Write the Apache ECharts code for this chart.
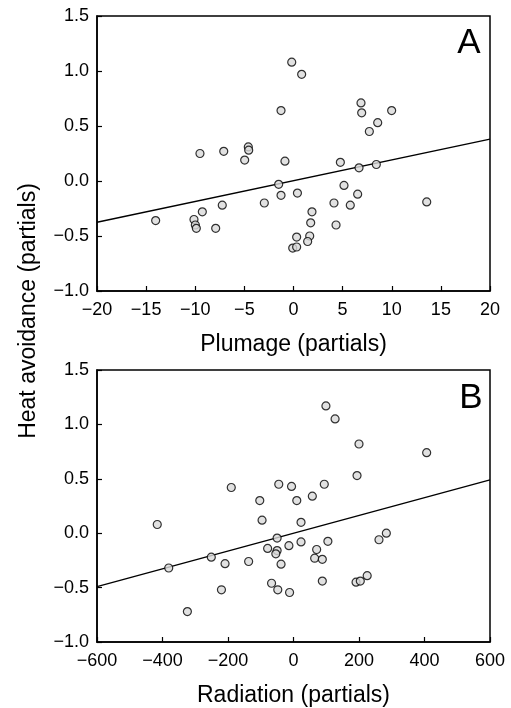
<!DOCTYPE html>
<html>
<head>
<meta charset="utf-8">
<script src="https://cdn.jsdelivr.net/npm/echarts@6/dist/echarts.min.js"></script>
<style>html,body{margin:0;padding:0;background:#fff;}#c{width:511px;height:708px;}</style>
</head>
<body>
<div id="c"></div>
<script>
// Panel A: Plumage (partials) vs Heat avoidance (partials)
const plumageX = [-0.18,0.83,-1.27,-9.52,-7.1,-4.6,-4.56,-4.97,-0.87,-1.51,-1.27,0.4,-2.97,-7.25,-9.28,-14.03,-10.13,-9.99,-9.89,-7.92,0.32,-0.08,0.32,6.87,6.94,9.99,8.57,7.72,4.77,6.67,8.43,5.14,6.53,4.12,5.78,13.56,1.88,1.75,4.33,1.65,1.44];
const heatA    = [1.08,0.97,0.64,0.25,0.27,0.31,0.28,0.19,0.18,-0.03,-0.13,-0.11,-0.20,-0.22,-0.28,-0.36,-0.35,-0.40,-0.43,-0.43,-0.51,-0.61,-0.60,0.71,0.62,0.64,0.53,0.45,0.17,0.12,0.15,-0.04,-0.12,-0.20,-0.22,-0.19,-0.28,-0.38,-0.40,-0.50,-0.55];
const fitAx = [-20, 20];
const fitAy = [-0.375, 0.38];

// Panel B: Radiation (partials) vs Heat avoidance (partials)
const radiationX = [-416,-381,-324,-251,-220,-209,-190,-137,-103,-96,-79,-67,-50,-50,-54,-45,-38,-48,-14,-12,-6,10,23,23,57.5,70.7,64.6,88,88,94,99,105,127,191,194,200,204,225,261,283.5,406.6];
const heatB      = [0.08,-0.32,-0.72,-0.22,-0.52,-0.28,0.42,-0.26,0.30,0.12,-0.14,-0.46,-0.045,-0.16,-0.19,0.45,-0.285,-0.52,-0.115,-0.545,0.43,0.30,0.10,-0.08,0.34,-0.15,-0.23,-0.24,-0.44,0.45,1.17,-0.075,1.05,-0.45,0.53,0.82,-0.44,-0.39,-0.06,0.00,0.74];
const fitBx = [-600, 600];
const fitBy = [-0.49, 0.49];

const xTicksA = [-20,-15,-10,-5,0,5,10,15,20];
const xTicksB = [-600,-400,-200,0,200,400,600];
const yTicks = [-1.0,-0.5,0.0,0.5,1.0,1.5];

const FONT = '"Liberation Sans", Arial, sans-serif';
const minus = s => String(s).replace('-', '\u2212');

function xAxisCfg(gridIndex, ticks, name) {
  return {
    type: 'value', gridIndex,
    min: ticks[0], max: ticks[ticks.length-1], interval: ticks[1]-ticks[0],
    name, nameLocation: 'middle', nameGap: 42,
    nameTextStyle: {fontFamily: FONT, fontSize: 23, color: '#000'},
    axisLine: {show: true, onZero: false, lineStyle: {color: '#000', width: 1.5}},
    axisTick: {show: true, inside: true, length: 5, lineStyle: {color: '#000', width: 1.2}},
    axisLabel: {fontFamily: FONT, fontSize: 18, color: '#000', margin: 10, formatter: v => minus(v)},
    splitLine: {show: false}
  };
}
function yAxisCfg(gridIndex) {
  return {
    type: 'value', gridIndex,
    min: yTicks[0], max: yTicks[yTicks.length-1], interval: yTicks[1]-yTicks[0],
    axisLine: {show: true, onZero: false, lineStyle: {color: '#000', width: 1.5}},
    axisTick: {show: true, inside: true, length: 5, lineStyle: {color: '#000', width: 1.2}},
    axisLabel: {fontFamily: FONT, fontSize: 18, color: '#000', margin: 8, formatter: v => minus(v.toFixed(1))},
    splitLine: {show: false}
  };
}

const ptStyle = {color: '#d9d9d9', borderColor: '#000', borderWidth: 1.2};

const chart = echarts.init(document.getElementById('c'), null, {renderer: 'canvas'});
chart.setOption({
  animation: false,
  backgroundColor: '#fff',
  grid: [
    {left: 97, width: 393, top: 16, height: 275, show: true, borderColor: '#000', borderWidth: 1.5, backgroundColor: 'transparent'},
    {left: 97, width: 393, top: 370, height: 275, show: true, borderColor: '#000', borderWidth: 1.5, backgroundColor: 'transparent'}
  ],
  xAxis: [xAxisCfg(0, xTicksA, 'Plumage (partials)'), xAxisCfg(1, xTicksB, 'Radiation (partials)')],
  yAxis: [yAxisCfg(0), yAxisCfg(1)],
  series: [
    {type: 'line', xAxisIndex: 0, yAxisIndex: 0, data: fitAx.map((x,i)=>[x, fitAy[i]]), showSymbol: false, lineStyle: {color: '#000', width: 1.3}, z: 2},
    {type: 'scatter', xAxisIndex: 0, yAxisIndex: 0, data: plumageX.map((x,i)=>[x, heatA[i]]), symbol: 'circle', symbolSize: 8, itemStyle: ptStyle, z: 3},
    {type: 'line', xAxisIndex: 1, yAxisIndex: 1, data: fitBx.map((x,i)=>[x, fitBy[i]]), showSymbol: false, lineStyle: {color: '#000', width: 1.3}, z: 2},
    {type: 'scatter', xAxisIndex: 1, yAxisIndex: 1, data: radiationX.map((x,i)=>[x, heatB[i]]), symbol: 'circle', symbolSize: 8, itemStyle: ptStyle, z: 3}
  ],
  graphic: [
    {type: 'text', x: 29, y: 311, rotation: Math.PI/2, style: {text: 'Heat avoidance (partials)', fontFamily: FONT, fontSize: 23, fill: '#000', align: 'center', verticalAlign: 'middle'}},
    {type: 'text', x: 469, y: 43, style: {text: 'A', fontFamily: FONT, fontSize: 35, fill: '#000', align: 'center', verticalAlign: 'middle'}},
    {type: 'text', x: 471, y: 398, style: {text: 'B', fontFamily: FONT, fontSize: 35, fill: '#000', align: 'center', verticalAlign: 'middle'}}
  ]
});
</script>
</body>
</html>
